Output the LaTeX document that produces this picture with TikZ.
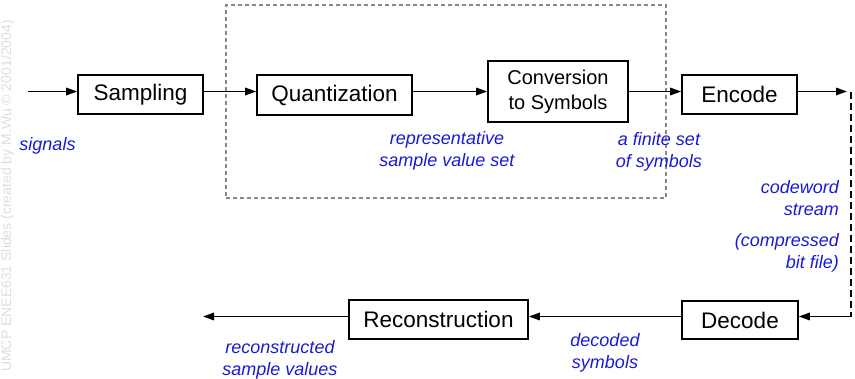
\documentclass[tikz,border=0pt]{standalone}
\usepackage{fontspec}
\setmainfont{Liberation Sans}
\usetikzlibrary{arrows.meta}
\definecolor{lblblue}{RGB}{25,25,215}
\definecolor{wmgray}{RGB}{222,222,226}
\definecolor{dashgray}{RGB}{135,135,135}
\begin{document}
\begin{tikzpicture}[x=1pt,y=-1pt,
 blk/.style={draw,line width=1.6pt,inner sep=0pt,font=\fontsize{22.5}{25}\selectfont,align=center},
 arr/.style={line width=1.6pt,-{Triangle[length=11pt,width=7.5pt]}},
 lbl/.style={text=lblblue,font=\fontsize{18}{22}\itshape\selectfont,inner sep=0pt},
 grpbox/.style={draw=dashgray,line width=1.2pt,dash pattern=on 4pt off 3pt,inner sep=0pt},
]
\useasboundingbox (0,0) rectangle (855,378);
% watermark
\node[rotate=90,anchor=west,text=wmgray,font=\fontsize{14}{14}\selectfont,inner sep=0pt] (wm) at (7.5,372) {UMCP ENEE631 Slides (created by M.Wu © 2001/2004)};
% grouping box
\node[grpbox,minimum width=440pt,minimum height=193pt] (grp) at (446,101.5) {};
% blocks
\node[blk,minimum width=125pt,minimum height=39pt] (samp) at (140.5,94.5) {Sampling};
\node[blk,minimum width=155pt,minimum height=40pt] (quant) at (334.5,95) {Quantization};
\node[blk,minimum width=140pt,minimum height=61pt,font=\fontsize{20}{25}\selectfont] (conv) at (558,91.5) {Conversion\\to Symbols};
\node[blk,minimum width=115pt,minimum height=39pt] (enc) at (739.5,94.5) {Encode};
\node[blk,minimum width=116pt,minimum height=38pt] (dec) at (740,320) {Decode};
\node[blk,minimum width=179pt,minimum height=39pt] (rec) at (438.5,319.5) {Reconstruction};
% connectors
\coordinate (in) at (28,91.5);
\coordinate (encout) at (847,91.5);
\coordinate (ctop) at (851,92);
\coordinate (cbot) at (851,316.5);
\coordinate (out) at (203,316.5);
\draw[arr] (in) -- (in -| samp.west);
\draw[arr] (samp.east |- in) -- (quant.west |- in);
\draw[arr] (quant.east |- in) -- (conv.west);
\draw[arr] (conv.east) -- (conv.east -| enc.west);
\draw[arr] (enc.east |- in) -- (encout);
\draw[line width=1.6pt,dash pattern=on 7pt off 4pt] (ctop) -- (cbot);
\draw[arr] (cbot) -- (cbot -| dec.east);
\draw[arr] (dec.west |- cbot) -- (cbot -| rec.east);
\draw[arr] (rec.west |- cbot) -- (out);
% labels
\node[lbl] (sig) at (47.5,146) {signals};
\node[lbl,align=center] (rep) at (447,150.5) {representative\\sample value set};
\node[lbl,align=center] (fin) at (659,151.5) {a finite set\\of symbols};
\node[lbl,align=right,anchor=east] (cw) at (839,198.5) {codeword\\stream};
\node[lbl,align=right,anchor=east] (cmp) at (839,253) {(compressed\\bit file)};
\node[lbl,align=center] (dsym) at (605,353) {decoded\\symbols};
\node[lbl,align=center] (rsv) at (280,360) {reconstructed\\sample values};
\end{tikzpicture}
\end{document}
